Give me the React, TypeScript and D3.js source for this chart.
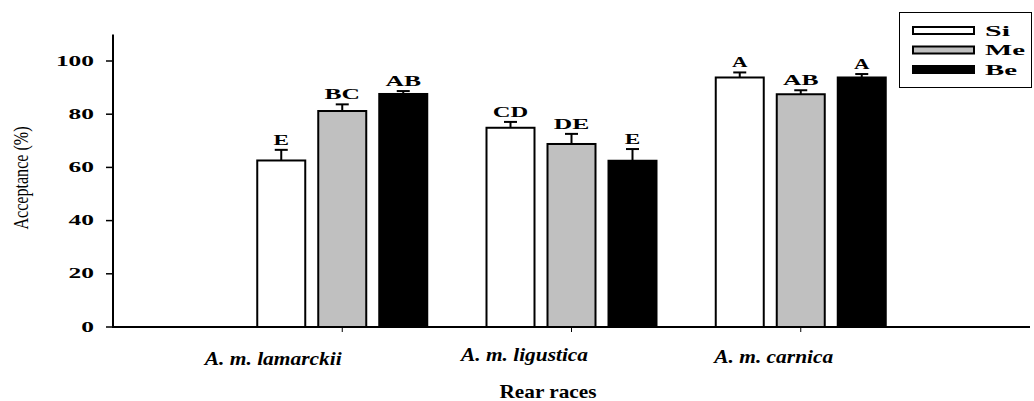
import React from "react";
import * as d3 from "d3";

const categories = ["A. m. lamarckii", "A. m. ligustica", "A. m. carnica"];
const seriesNames = ["Si", "Me", "Be"];
const seriesFills = ["#ffffff", "#c0c0c0", "#000000"];
// mean acceptance (%) per category, per series
const siValues = [62.6, 74.9, 93.8];
const meValues = [81.2, 68.8, 87.5];
const beValues = [87.6, 62.5, 93.8];
// standard errors (upper bars)
const siErrors = [4.0, 2.2, 1.9];
const meErrors = [2.5, 3.8, 1.5];
const beErrors = [1.1, 4.4, 1.3];
// significance letters
const siLetters = ["E", "CD", "A"];
const meLetters = ["BC", "DE", "AB"];
const beLetters = ["AB", "E", "A"];
const yTicks = [0, 20, 40, 60, 80, 100];

const W = 1034;
const H = 401;
const FONT = "Liberation Serif, Times New Roman, Times, serif";

export default function App() {
  const x = d3.scaleLinear().domain([0, 4]).range([113, 1030]);
  const y = d3.scaleLinear().domain([0, 110]).range([327, 34.4]);

  const values = [siValues, meValues, beValues];
  const errors = [siErrors, meErrors, beErrors];
  const letters = [siLetters, meLetters, beLetters];
  const barOffsets = [-61, 0, 61];
  const barW = 48;
  const labelShift = [-69, -47, -27];
  const labelBase = [365, 361, 363];
  const labelLen = [137, 127, 119];

  return (
    <svg
      width={W}
      height={H}
      style={{ position: "fixed", left: 0, top: 0, background: "#fff", fontFamily: FONT }}
    >
      <rect x={0} y={0} width={W} height={H} fill="#fff" />
      {/* bars */}
      {categories.map((c, ci) =>
        seriesNames.map((s, si) => {
          const cx = x(ci + 1) + barOffsets[si];
          const v = values[si][ci];
          const e = errors[si][ci];
          const top = y(v);
          const cap = y(v + e);
          const lw = letters[si][ci].length;
          return (
            <g key={c + s}>
              <line x1={cx} x2={cx} y1={top} y2={cap} stroke="#000" strokeWidth={2} />
              <line x1={cx - 6.5} x2={cx + 6.5} y1={cap} y2={cap} stroke="#000" strokeWidth={2} />
              <rect
                x={cx - barW / 2}
                y={top}
                width={barW}
                height={y(0) - top}
                fill={seriesFills[si]}
                stroke="#000"
                strokeWidth={2}
              />
              <text
                x={cx}
                y={cap - 5}
                textAnchor="middle"
                fontSize={14}
                fontWeight="bold"
                textLength={lw === 1 ? 15.5 : 35.5}
                lengthAdjust="spacingAndGlyphs"
              >
                {letters[si][ci]}
              </text>
            </g>
          );
        })
      )}
      {/* y axis */}
      <line x1={113} x2={113} y1={y(110)} y2={y(0) + 1} stroke="#000" strokeWidth={2} />
      {yTicks.map((t) => (
        <g key={t}>
          <line x1={106} x2={113} y1={y(t)} y2={y(t)} stroke="#000" strokeWidth={1.5} />
          <text
            x={94}
            y={y(t) + 4.5}
            textAnchor="end"
            fontSize={14}
            fontWeight="bold"
            textLength={String(t).length * 12.7}
            lengthAdjust="spacingAndGlyphs"
          >
            {t}
          </text>
        </g>
      ))}
      {/* x axis */}
      <line x1={112} x2={x(4)} y1={y(0)} y2={y(0)} stroke="#000" strokeWidth={2} />
      {categories.map((c, ci) => (
        <g key={c}>
          <line x1={x(ci + 1)} x2={x(ci + 1)} y1={y(0)} y2={y(0) + 5} stroke="#000" strokeWidth={1} />
          <text
            x={x(ci + 1) + labelShift[ci]}
            y={labelBase[ci]}
            textAnchor="middle"
            fontSize={19}
            fontWeight="bold"
            fontStyle="italic"
            textLength={labelLen[ci]}
            lengthAdjust="spacingAndGlyphs"
          >
            {c}
          </text>
        </g>
      ))}
      <text
        x={548}
        y={398}
        textAnchor="middle"
        fontSize={19}
        fontWeight="bold"
        textLength={97}
        lengthAdjust="spacingAndGlyphs"
      >
        Rear races
      </text>
      <text
        transform={`translate(28,178) rotate(-90)`}
        textAnchor="middle"
        fontSize={21}
        textLength={103}
        lengthAdjust="spacingAndGlyphs"
      >
        Acceptance (%)
      </text>
      {/* legend */}
      <rect x={899.5} y={12.5} width={132} height={75} fill="#fff" stroke="#000" strokeWidth={1} />
      {seriesNames.map((s, si) => {
        const cy = 30.5 + si * 19.5;
        return (
          <g key={s}>
            <rect
              x={913}
              y={cy - 3.5}
              width={61}
              height={7}
              fill={seriesFills[si]}
              stroke="#000"
              strokeWidth={2}
            />
            <text
              x={985}
              y={cy + 5}
              fontSize={14}
              fontWeight="bold"
              textLength={[25, 40, 32][si]}
              lengthAdjust="spacingAndGlyphs"
            >
              {s}
            </text>
          </g>
        );
      })}
    </svg>
  );
}
